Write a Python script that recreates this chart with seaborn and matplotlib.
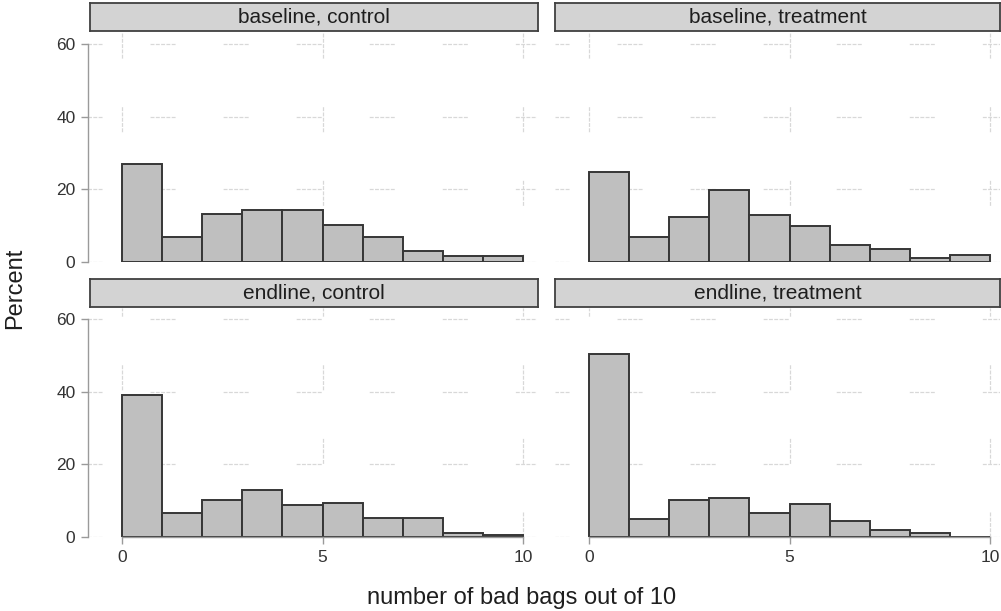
import numpy as np
import pandas as pd
import seaborn as sns
import matplotlib.pyplot as plt

# Данные: процент по числу плохих мешков (0..9, последний бин включает 10)
bags = list(range(10))
baseline_control = [27.0, 7.0, 13.1, 14.2, 14.2, 10.1, 7.0, 2.9, 1.7, 1.7]
baseline_treatment = [24.8, 7.0, 12.5, 19.8, 13.0, 10.0, 4.8, 3.5, 1.2, 1.9]
endline_control = [39.2, 6.7, 10.3, 12.8, 8.7, 9.3, 5.1, 5.1, 1.1, 0.6]
endline_treatment = [50.4, 5.0, 10.2, 10.7, 6.6, 9.2, 4.5, 2.0, 1.0, 0.0]
titles = ['baseline, control', 'baseline, treatment',
          'endline, control', 'endline, treatment']
x_ticks = [0, 5, 10]
y_ticks = [0, 20, 40, 60]

sns.set_theme(style='white')
plt.rcParams['font.family'] = ['Liberation Sans', 'DejaVu Sans']
plt.rcParams['lines.scale_dashes'] = False

W, H = 1001, 611
fig = plt.figure(figsize=(W / 100, H / 100), dpi=100)


def px_axes(x0, y0, x1, y1):
    return fig.add_axes([x0 / W, 1 - y1 / H, (x1 - x0) / W, (y1 - y0) / H])


# штрих сетки: короткая пунктирная группа, затем длинный пропуск
def grid_dash(gap):
    return (2.8, 1.0) * 4 + (2.8, gap)


# (значения, x0, x1, zero_px, верх, низ, полоса, показать y, показать x, фаза сетки)
panels = [
    (baseline_control, 88, 537, 122, 33, 262, (90, 538, 3, 31), True, False, 12.2),
    (baseline_treatment, 555, 1000, 589, 33, 262, (555, 1000, 3, 31), False, False, 12.2),
    (endline_control, 88, 537, 122, 308, 537, (90, 538, 279, 307), True, True, 0),
    (endline_treatment, 555, 1000, 589, 308, 537, (555, 1000, 279, 307), False, True, 0),
]

grid_color = '#d8d8d8'
axis_color = '#9a9a9a'

for title, (vals, x0, x1, zero, ytop, ybot, strip, show_y, show_x, vphase) in zip(titles, panels):
    ax = px_axes(x0, ytop, x1, ybot)
    ax.set_axisbelow(True)

    df = pd.DataFrame({'bags': bags, 'pct': vals})
    sns.histplot(data=df, x='bags', weights='pct', binwidth=1, binrange=(0, 10), ax=ax,
                 color='#bfbfbf', edgecolor='#363636', linewidth=1.4, alpha=1)
    ax.set_xlabel('')
    ax.set_ylabel('')

    unit = 40.1
    ax.set_xlim((x0 - zero) / unit, (x1 - zero) / unit)
    ax.set_ylim(0, 60 * (ybot - ytop) / 218)

    ax.set_xticks(x_ticks)
    ax.set_yticks(y_ticks)
    ax.yaxis.grid(True, color=grid_color, lw=0.9, linestyle=(7.9, grid_dash(34.6)))
    ax.xaxis.grid(True, color=grid_color, lw=0.9, linestyle=(vphase, grid_dash(35.0)))

    for s in ax.spines.values():
        s.set_visible(False)
    if show_y:
        ax.spines['left'].set_visible(True)
        ax.spines['left'].set_color(axis_color)
        ax.spines['left'].set_linewidth(1.0)
        ax.spines['left'].set_bounds(0, 60)
    if show_x:
        ax.spines['bottom'].set_visible(True)
        ax.spines['bottom'].set_color(axis_color)
        ax.spines['bottom'].set_linewidth(1.0)
        ax.spines['bottom'].set_bounds(0, 10)

    ax.tick_params(axis='y', left=show_y, labelleft=show_y, length=5, width=1,
                   color=axis_color, labelcolor='#333333', labelsize=12.5, pad=4)
    ax.tick_params(axis='x', bottom=show_x, labelbottom=show_x, length=5, width=1,
                   color=axis_color, labelcolor='#333333', labelsize=12.5, pad=4)

    # Полоса с заголовком панели
    sx0, sx1, sy0, sy1 = strip
    sax = px_axes(sx0, sy0, sx1, sy1)
    sax.set_facecolor('#d3d3d3')
    sax.set_xticks([])
    sax.set_yticks([])
    for s in sax.spines.values():
        s.set_visible(True)
        s.set_color('#404040')
        s.set_linewidth(1.3)
    sax.text(0.5, 0.5, title, ha='center', va='center', fontsize=15, color='#1e1e1e',
             transform=sax.transAxes)

fig.text(15 / W, 1 - 288 / H, 'Percent', rotation=90, ha='center', va='center',
         fontsize=17, color='#1e1e1e')
fig.text(522 / W, 1 - 598 / H, 'number of bad bags out of 10', ha='center', va='center',
         fontsize=17, color='#1e1e1e')

plt.savefig('out.png', dpi=100)
